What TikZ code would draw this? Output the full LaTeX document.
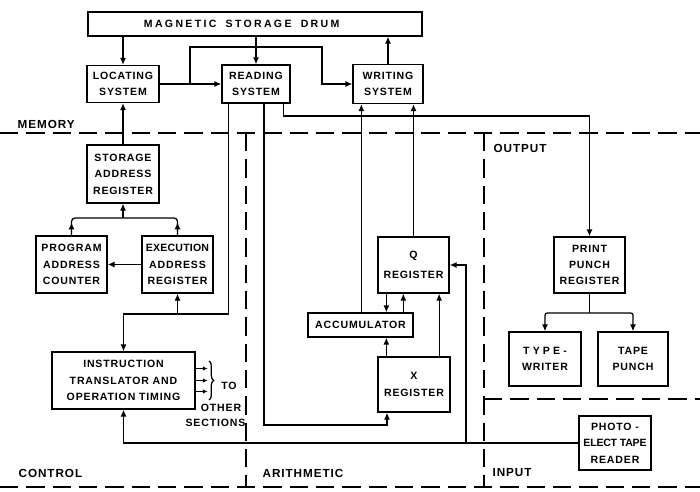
\documentclass[tikz,border=0pt]{standalone}
\usepackage{fontspec}
\setmainfont{Liberation Sans}[LetterSpace=8]
\usetikzlibrary{arrows.meta,calc,decorations.pathreplacing}

\begin{document}
\begin{tikzpicture}[x=0.3mm, y=-0.3mm, line width=1.1pt,
  font=\fontsize{9}{14}\selectfont\bfseries,
  ar/.style={-{Latex[length=2.1mm,width=1.8mm]}},
  sar/.style={-{Latex[length=1.4mm,width=1.3mm]}},
  blk/.style={draw, align=center, inner sep=1pt},
  sect/.style={dash pattern=on 5.5mm off 2.4mm},
  lbl/.style={anchor=west, inner sep=0pt, font=\fontsize{10}{12}\selectfont\bfseries}]
  \useasboundingbox (0,0) rectangle (700,491);
  % section borders
  \draw[sect] (0,133) -- (700,133);
  \draw[sect] (0,487) -- (700,487);
  \draw[sect] (246,133) -- (246,487);
  \draw[sect] (484,133) -- (484,487);
  \draw[sect] (484,399) -- (700,399);
  \node[lbl] (memlbl) at (17,124) {MEMORY};
  \node[lbl] (outlbl) at (493,148) {OUTPUT};
  \node[lbl] (ctllbl) at (18,473) {CONTROL};
  \node[lbl] (arilbl) at (262,473) {ARITHMETIC};
  \node[lbl] (inlbl) at (492,473) {INPUT};
  % memory
  \node[blk, minimum width=100.2mm, minimum height=7.2mm] (drum) at (255,24)
    {\addfontfeatures{LetterSpace=22}MAGNETIC\hspace{1.2mm} STORAGE\hspace{1.2mm} DRUM\hspace*{8mm}};
  \node[blk, minimum width=21.6mm, minimum height=11.1mm] (loc) at (123,84) {LOCATING\\SYSTEM};
  \node[blk, minimum width=20.4mm, minimum height=11.4mm] (read) at (256,84) {READING\\SYSTEM};
  \node[blk, minimum width=21mm, minimum height=11.7mm] (write) at (388,84) {WRITING\\SYSTEM};
  % control
  \node[blk, minimum width=21.6mm, minimum height=17.4mm] (sar) at (123,174) {STORAGE\\ADDRESS\\REGISTER};
  \node[blk, minimum width=21.3mm, minimum height=17.1mm] (pac) at (71.5,264.5) {PROGRAM\\ADDRESS\\COUNTER};
  \node[blk, minimum width=21.3mm, minimum height=17.1mm, inner sep=0pt] (ear) at (177.5,264.5)
    {{\addfontfeatures{LetterSpace=2}EXECUTION}\\ADDRESS\\REGISTER};
  \node[blk, minimum width=42.9mm, minimum height=17.1mm] (itot) at (123.5,380.5)
    {INSTRUCTION\\TRANSLATOR AND\\OPERATION TIMING};
  % arithmetic
  \node[blk, minimum width=21.3mm, minimum height=16.8mm] (q) at (413.5,265) {Q\\[3pt]REGISTER};
  \node[blk, minimum width=31.5mm, minimum height=7.2mm] (acc) at (360.5,325) {ACCUMULATOR};
  \node[blk, minimum width=21.6mm, minimum height=16.5mm] (xreg) at (414,384.5) {X\\[1pt]REGISTER};
  % output, input
  \node[blk, minimum width=21.3mm, minimum height=16.8mm] (ppr) at (589.5,265) {PRINT\\PUNCH\\REGISTER};
  \node[blk, minimum width=21.6mm, minimum height=16.2mm] (tw) at (545,359)
    {{\addfontfeatures{LetterSpace=30}TYPE-}\\WRITER};
  \node[blk, minimum width=21mm, minimum height=16.2mm] (tp) at (633,359) {TAPE\\PUNCH};
  \node[blk, minimum width=21.6mm, minimum height=16.2mm, inner sep=0pt] (pter) at (615,443)
    {PHOTO -\\{\addfontfeatures{LetterSpace=-2}ELECT TAPE}\\READER};
  % junctions
  \coordinate (j1) at (190,84);
  \coordinate (up) at (322,47);
  \coordinate (bus) at (589.5,116);
  \coordinate (k) at (177.5,314);
  \coordinate (xl) at (387,425);
  \coordinate (j2) at (466,443);
  \coordinate (j3) at (123,218);
  \coordinate (j4) at (589.5,313);
  \coordinate (wa) at ([xshift=2.7mm]write.south west);
  \coordinate (qa) at ([xshift=2.7mm]q.south west);
  \coordinate (qb) at ([xshift=7.8mm]q.south west);
  \coordinate (qc) at ([xshift=-3.15mm]q.south east);
  % drum and memory connections
  \draw[ar] (loc.north |- drum.south) -- (loc.north);
  \draw[ar] (read.north |- drum.south) -- (read.north);
  \draw[ar] (write.north) -- (write.north |- drum.south);
  \draw[ar] (loc.east) -- (read.west);
  \draw[ar] (j1) |- (up) |- (write.west);
  \draw[ar] ([xshift=-2.1mm]read.south east) |- (bus) -- (ppr.north);
  \draw[ar] ([xshift=2.1mm]read.south west) |- (k) -| (itot.north);
  \draw[ar] ([xshift=2.4mm]read.south) |- (xl) -- (xl |- xreg.south);
  % control
  \draw[ar] (sar.north) -- (loc.south);
  \draw[ar] (k) -- (ear.south);
  \draw[ar] (ear.west) -- (pac.east);
  \draw[rounded corners=3pt] (pac.north) |- (j3) -| (ear.north);
  \draw[ar] (pac.north) -- ++(0,-13);
  \draw[ar] (ear.north) -- ++(0,-13);
  \draw[ar] (j3) -- (sar.south);
  \foreach \d in {-12,0,11}
    \draw[sar] ($(itot.east)+(0,\d)$) -- ++(12,0);
  \draw[decorate, decoration={brace, amplitude=4pt}] (209,361) -- (209,400);
  \node (to) at (229,386) {TO};
  \node (oth) at (221,408) {OTHER};
  \node (secs) at (215.5,423) {SECTIONS};
  % arithmetic
  \draw[ar] (wa |- acc.north) -- (wa);
  \draw[ar] (q.north) -- (q.north |- write.south);
  \draw[ar] (qa) -- (qa |- acc.north);
  \draw[ar] (qb |- acc.north) -- (qb);
  \draw[ar] (qa |- xreg.north) -- (qa |- acc.south);
  \draw[ar] (qc |- xreg.north) -- (qc);
  % input and output
  \draw[ar] (pter.west) -| (itot.south);
  \draw[ar] (j2) |- (q.east);
  \draw (ppr.south) -- (j4);
  \draw[ar, rounded corners=2pt] (j4) -| (tw.north);
  \draw[ar, rounded corners=2pt] (j4) -| (tp.north);
\end{tikzpicture}
\end{document}
